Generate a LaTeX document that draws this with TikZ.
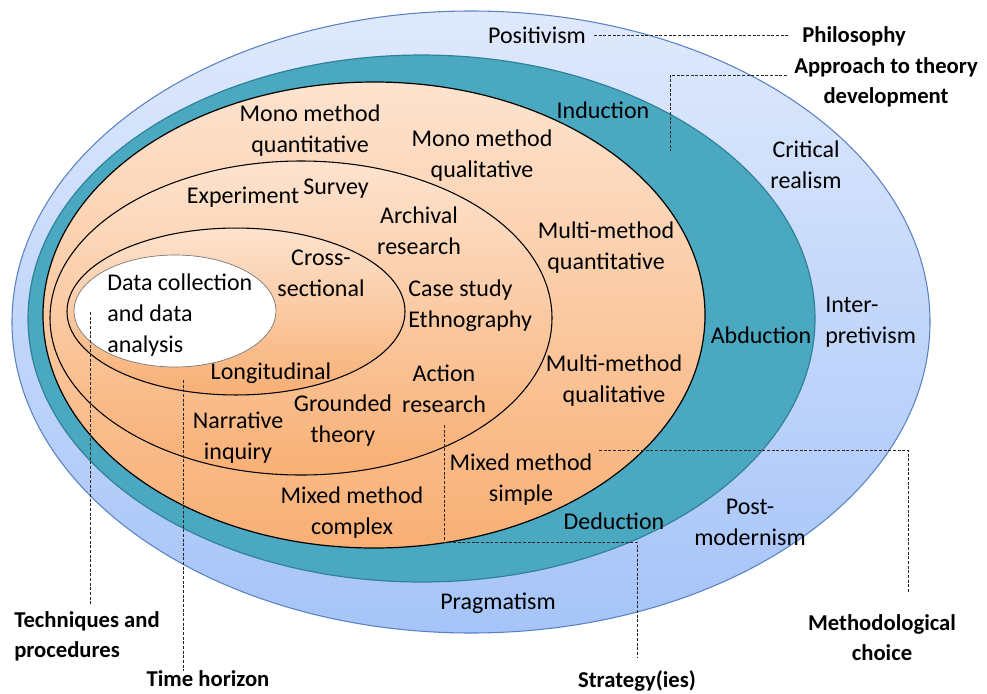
\documentclass[tikz,border=0pt]{standalone}
\usepackage{fontspec}
\setmainfont{Carlito}
\definecolor{skyTop}{HTML}{DFE9FC}
\definecolor{skyBot}{HTML}{A6C4F8}
\definecolor{skyEdge}{HTML}{5A82C2}
\definecolor{tealFill}{HTML}{4BA8C1}
\definecolor{tealEdge}{HTML}{2F8298}
\definecolor{peachTop}{HTML}{FDE3CF}
\definecolor{peachBot}{HTML}{F8AF74}
\begin{document}
\begin{tikzpicture}[x=0.75pt,y=-0.75pt,
  lbl/.style={font=\fontsize{18}{23.25}\selectfont,align=center,inner sep=0pt,text=black},
  tag/.style={font=\bfseries\fontsize{17}{22.5}\selectfont,align=center,inner sep=0pt,text=black},
  leader/.style={dash pattern=on 2.2pt off 1.3pt,line width=0.6pt,black!85},
  layer/.style={top color=peachTop,bottom color=peachBot}]
\useasboundingbox (0,0) rectangle (987,693);

% philosophy layer
\shade[top color=skyTop,bottom color=skyBot] (471,322) ellipse [x radius=344.25pt,y radius=233.25pt];
\draw[skyEdge,line width=0.8pt] (471,322) ellipse [x radius=344.25pt,y radius=233.25pt];
% approach layer
\filldraw[fill=tealFill,draw=tealEdge,line width=0.9pt] (421.5,318.5) ellipse [x radius=295.1pt,y radius=197.6pt];
% methodological choice layer
\shade[layer] (374,315) ellipse [x radius=248.25pt,y radius=174.75pt];
\draw[black,line width=0.9pt] (374,315) ellipse [x radius=248.25pt,y radius=174.75pt];
% strategies layer
\shade[layer] (301,318) ellipse [x radius=188.25pt,y radius=117.75pt];
\draw[black,line width=0.8pt] (301,318) ellipse [x radius=188.25pt,y radius=117.75pt];
% time horizon layer
\shade[layer] (236,311.5) ellipse [x radius=126.75pt,y radius=62.6pt];
\draw[black,line width=0.8pt] (236,311.5) ellipse [x radius=126.75pt,y radius=62.6pt];
% core
\filldraw[fill=white,draw=black!55,line width=0.5pt] (175,311) ellipse [x radius=75.75pt,y radius=42pt];

% layer labels
\node[lbl] (pos) at (537,35) {Positivism};
\node[lbl] (induc) at (603,110) {Induction};
\node[lbl] (crit) at (806,165) {Critical\\realism};
\node[lbl] (monoquant) at (310,131) {Mono method\\quantitative};
\node[lbl] (monoqual) at (482,156) {Mono method\\qualitative};
\node[lbl] (exper) at (243,197) {Experiment};
\node[lbl] (survey) at (336,189) {Survey};
\node[lbl] (archival) at (419,231) {Archival\\research};
\node[lbl] (multiquant) at (606,248) {Multi-method\\quantitative};
\node[lbl] (cross) at (321,273) {Cross-\\sectional};
\node[lbl,align=left,anchor=west] (datacoll) at (107,315) {Data collection\\and data\\analysis};
\node[lbl,align=left,anchor=west] (casestudy) at (408,306) {Case study\\Ethnography};
\node[lbl] (abduction) at (761,335) {Abduction};
\node[lbl,align=left,anchor=west] (inter) at (825,322) {Inter-\\pretivism};
\node[lbl] (longit) at (271,373) {Longitudinal};
\node[lbl] (action) at (444,389) {Action\\research};
\node[lbl] (grounded) at (343,421) {Grounded\\theory};
\node[lbl] (narrative) at (238,438) {Narrative\\inquiry};
\node[lbl] (multiqual) at (614,381) {Multi-method\\qualitative};
\node[lbl] (mixsimple) at (521,480) {Mixed method\\simple};
\node[lbl] (mixcomplex) at (352,513) {Mixed method\\complex};
\node[lbl] (deduction) at (614,521) {Deduction};
\node[lbl] (postmod) at (750,522) {Post-\\modernism};
\node[lbl] (pragmat) at (498,603) {Pragmatism};

% layer names
\node[tag] (philo) at (854,36) {Philosophy};
\node[tag] (approach) at (886,82) {Approach to theory\\development};
\node[tag,align=left,anchor=west] (tech) at (14,636) {Techniques and\\procedures};
\node[tag] (timeh) at (208,679) {Time horizon};
\node[tag] (strat) at (637,681) {Strategy(ies)};
\node[tag] (method) at (882,638) {Methodological\\choice};

% leader lines
\coordinate (apprEnd) at (670,151);
\coordinate (mcStart) at (599,450);
\coordinate (mcEnd) at (908,592);
\coordinate (stStart) at (444,425);
\coordinate (stBend) at (637,542);
\coordinate (tpStart) at (90,312);
\coordinate (thStart) at (183,380);

\draw[leader,shorten <=6pt,shorten >=9pt] (pos.east) -- (pos.east -| philo.west);
\draw[leader] ([shift={(-7,-7)}]approach.west) -| (apprEnd);
\draw[leader] (mcStart) -| (mcEnd);
\draw[leader,shorten >=9pt] (stStart) |- (stBend) -- (stBend |- strat.north);
\draw[leader,shorten >=4pt] (tpStart) -- (tpStart |- tech.north);
\draw[leader] (thStart) -- (thStart |- timeh.north);
\end{tikzpicture}
\end{document}
